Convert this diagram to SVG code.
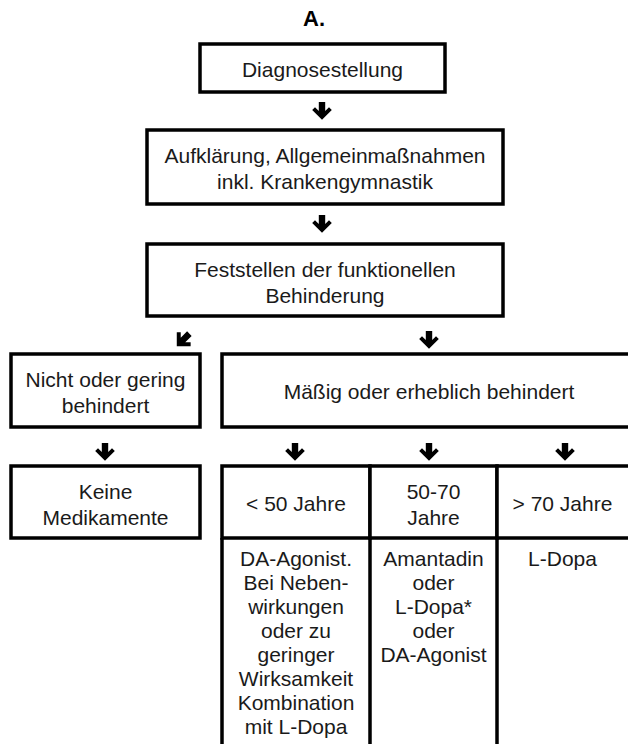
<svg xmlns="http://www.w3.org/2000/svg" width="628" height="744" viewBox="0 0 628 744">
<style>
  .box { fill: #fff; stroke: #000; stroke-width: 3.5; }
  .ln { fill: none; stroke: #000; stroke-width: 3.5; }
  text { font-family: "Liberation Sans", Arial, sans-serif; font-size: 21px; fill: #1a1a1a; text-anchor: middle; }
  .title { font-weight: bold; fill: #000; font-size: 22px; }
  .arr { fill: #000; }
</style>
<defs>
  <polygon id="down" points="-3.2,-9 3.2,-9 3.2,0 7,-3.8 9.8,-1 0,8.8 -9.8,-1 -7,-3.8 -3.2,0"/>
</defs>
<rect width="628" height="744" fill="#fff"/>
<text class="title" x="314" y="26">A.</text>

<g id="n1">
  <rect class="box" x="200" y="44" width="245" height="48"/>
  <text x="322.5" y="77">Diagnosestellung</text>
</g>
<g id="n2">
  <rect class="box" x="147" y="130" width="356" height="74"/>
  <text x="325" y="163">Aufklärung, Allgemeinmaßnahmen</text>
  <text x="325" y="189">inkl. Krankengymnastik</text>
</g>
<g id="n3">
  <rect class="box" x="147" y="244" width="356" height="72"/>
  <text x="325" y="277">Feststellen der funktionellen</text>
  <text x="325" y="303">Behinderung</text>
</g>
<g id="n4">
  <rect class="box" x="11" y="354" width="189" height="73"/>
  <text x="105.5" y="387">Nicht oder gering</text>
  <text x="105.5" y="413">behindert</text>
</g>
<g id="n5">
  <rect class="box" x="222" y="354" width="420" height="73"/>
  <text x="429" y="399">Mäßig oder erheblich behindert</text>
</g>
<g id="n6">
  <rect class="box" x="11" y="466" width="189" height="72"/>
  <text x="105.5" y="499">Keine</text>
  <text x="105.5" y="525">Medikamente</text>
</g>
<g id="n7">
  <rect class="box" x="222" y="466" width="148" height="72"/>
  <text x="296" y="511">&lt; 50 Jahre</text>
</g>
<g id="n8">
  <rect class="box" x="370" y="466" width="127" height="72"/>
  <text x="433.5" y="499">50-70</text>
  <text x="433.5" y="525">Jahre</text>
</g>
<g id="n9">
  <rect class="box" x="497" y="466" width="145" height="72"/>
  <text x="562.5" y="511">&gt; 70 Jahre</text>
</g>
<g id="n10">
  <path class="ln" d="M222,538 V750 M370,538 V750"/>
  <text x="296" y="566">DA-Agonist.</text>
  <text x="296" y="590">Bei Neben-</text>
  <text x="296" y="614">wirkungen</text>
  <text x="296" y="638">oder zu</text>
  <text x="296" y="662">geringer</text>
  <text x="296" y="686">Wirksamkeit</text>
  <text x="296" y="710">Kombination</text>
  <text x="296" y="734">mit L-Dopa</text>
</g>
<g id="n11">
  <path class="ln" d="M497,538 V750"/>
  <text x="433.5" y="566">Amantadin</text>
  <text x="433.5" y="590">oder</text>
  <text x="433.5" y="614">L-Dopa*</text>
  <text x="433.5" y="638">oder</text>
  <text x="433.5" y="662">DA-Agonist</text>
</g>
<g id="n12">
  <text x="562.5" y="566">L-Dopa</text>
</g>

<g id="connectors" class="arr">
  <use href="#down" x="322" y="111"/>
  <use href="#down" x="322" y="224"/>
  <use href="#down" transform="translate(183,340) rotate(45)"/>
  <use href="#down" x="429" y="340"/>
  <use href="#down" x="105" y="452"/>
  <use href="#down" x="295" y="452"/>
  <use href="#down" x="429" y="452"/>
  <use href="#down" x="565" y="452"/>
</g>
</svg>
